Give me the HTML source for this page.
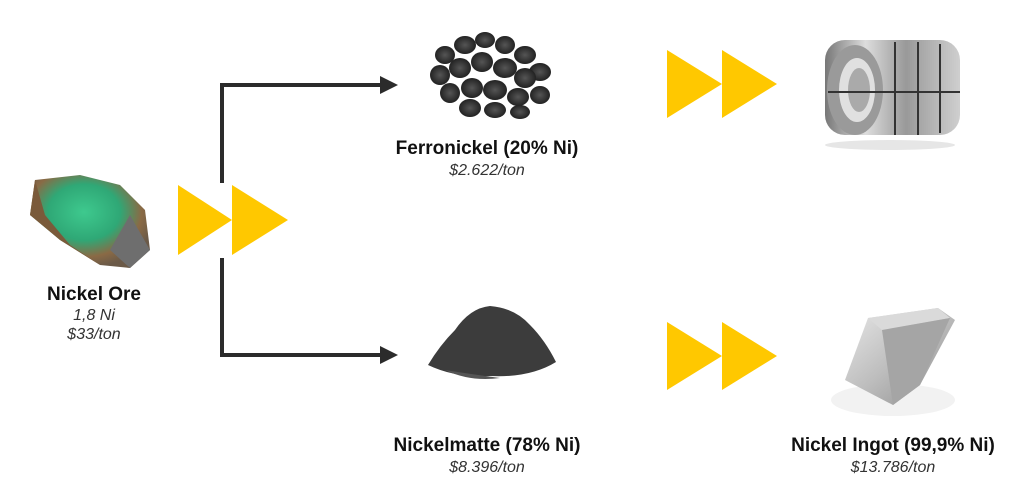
<!DOCTYPE html>
<html><head><meta charset="utf-8"><style>
body{margin:0;background:#fff;width:1021px;height:493px;overflow:hidden;font-family:"Liberation Sans",sans-serif}
</style></head><body>
<svg width="1021" height="493" viewBox="0 0 1021 493" xmlns="http://www.w3.org/2000/svg">
<defs>
<radialGradient id="ore" cx="45%" cy="40%" r="60%"><stop offset="0" stop-color="#3ec98e"/><stop offset="0.5" stop-color="#2fa876"/><stop offset="0.8" stop-color="#8a6a45"/><stop offset="1" stop-color="#6b5a48"/></radialGradient>
<linearGradient id="coil" x1="0" x2="1"><stop offset="0" stop-color="#777"/><stop offset="0.3" stop-color="#ddd"/><stop offset="0.6" stop-color="#999"/><stop offset="1" stop-color="#cfcfcf"/></linearGradient>
<linearGradient id="ing" x1="0" y1="0" x2="1" y2="1"><stop offset="0" stop-color="#e8e8e8"/><stop offset="0.5" stop-color="#bdbdbd"/><stop offset="1" stop-color="#8a8a8a"/></linearGradient>
<radialGradient id="peb" cx="50%" cy="50%" r="50%"><stop offset="0" stop-color="#555"/><stop offset="1" stop-color="#222"/></radialGradient>
</defs>
<g stroke="#2b2b2b" stroke-width="4" fill="none">
<path d="M222 183 V85 H382"/>
<path d="M222 258 V355 H382"/>
</g>
<polygon points="380,76 398,85 380,94" fill="#2b2b2b"/>
<polygon points="380,346 398,355 380,364" fill="#2b2b2b"/>
<g fill="#ffc800">
<polygon points="178,185 232,220 178,255"/><polygon points="232,185 288,220 232,255"/>
<polygon points="667,50 722,84 667,118"/><polygon points="722,50 777,84 722,118"/>
<polygon points="667,322 722,356 667,390"/><polygon points="722,322 777,356 722,390"/>
</g>
<path d="M35 180 L80 175 L120 185 L145 210 L150 250 L130 268 L100 265 L60 240 L30 215 Z" fill="url(#ore)"/>
<path d="M35 180 L45 215 L70 245 L100 265 L60 240 L30 215Z" fill="#7a5a3a"/>
<path d="M130 215 L150 250 L130 268 L110 250Z" fill="#6e6e6e"/>
<g fill="url(#peb)">
<ellipse cx="445" cy="55" rx="10" ry="9"/><ellipse cx="465" cy="45" rx="11" ry="9"/><ellipse cx="485" cy="40" rx="10" ry="8"/><ellipse cx="505" cy="45" rx="10" ry="9"/><ellipse cx="525" cy="55" rx="11" ry="9"/><ellipse cx="540" cy="72" rx="11" ry="9"/>
<ellipse cx="440" cy="75" rx="10" ry="10"/><ellipse cx="460" cy="68" rx="11" ry="10"/><ellipse cx="482" cy="62" rx="11" ry="10"/><ellipse cx="505" cy="68" rx="12" ry="10"/><ellipse cx="525" cy="78" rx="11" ry="10"/>
<ellipse cx="450" cy="93" rx="10" ry="10"/><ellipse cx="472" cy="88" rx="11" ry="10"/><ellipse cx="495" cy="90" rx="12" ry="10"/><ellipse cx="518" cy="97" rx="11" ry="9"/><ellipse cx="540" cy="95" rx="10" ry="9"/>
<ellipse cx="470" cy="108" rx="11" ry="9"/><ellipse cx="495" cy="110" rx="11" ry="8"/><ellipse cx="520" cy="112" rx="10" ry="7"/>
</g>
<rect x="825" y="40" width="135" height="95" rx="20" fill="url(#coil)"/>
<ellipse cx="855" cy="90" rx="28" ry="45" fill="#9a9a9a"/>
<ellipse cx="857" cy="90" rx="18" ry="32" fill="#e0e0e0"/>
<ellipse cx="859" cy="90" rx="11" ry="22" fill="#aaa"/>
<g stroke="#333" stroke-width="2"><line x1="895" y1="42" x2="895" y2="135"/><line x1="918" y1="42" x2="918" y2="135"/><line x1="940" y1="44" x2="940" y2="133"/><line x1="828" y1="92" x2="960" y2="92"/></g>
<ellipse cx="890" cy="145" rx="65" ry="5" fill="#e6e6e6"/>
<path d="M428 365 Q440 345 455 330 Q470 308 490 306 Q515 308 530 325 Q545 340 556 362 Q530 378 490 376 Q455 378 428 365Z" fill="#3c3c3c"/>
<path d="M445 370 Q470 382 500 378 Q470 374 445 370Z" fill="#555"/>
<ellipse cx="893" cy="400" rx="62" ry="16" fill="#f2f2f2"/>
<polygon points="845,380 868,318 938,308 955,320 920,385 893,405" fill="url(#ing)"/>
<polygon points="868,318 938,308 950,318 882,330" fill="#dadada"/>
<polygon points="882,330 950,318 920,385 893,405" fill="#a5a5a5"/>
<g text-anchor="middle" fill="#111">
<text x="94" y="300" font-size="19" font-weight="bold">Nickel Ore</text>
<text x="94" y="320" font-size="16" font-style="italic" fill="#333">1,8 Ni</text>
<text x="94" y="339" font-size="16" font-style="italic" fill="#333">$33/ton</text>
<text x="487" y="154" font-size="19" font-weight="bold">Ferronickel (20% Ni)</text>
<text x="487" y="175" font-size="16" font-style="italic" fill="#333">$2.622/ton</text>
<text x="487" y="451" font-size="19" font-weight="bold">Nickelmatte (78% Ni)</text>
<text x="487" y="472" font-size="16" font-style="italic" fill="#333">$8.396/ton</text>
<text x="893" y="451" font-size="19" font-weight="bold">Nickel Ingot (99,9% Ni)</text>
<text x="893" y="472" font-size="16" font-style="italic" fill="#333">$13.786/ton</text>
</g>
</svg>
</body></html>
